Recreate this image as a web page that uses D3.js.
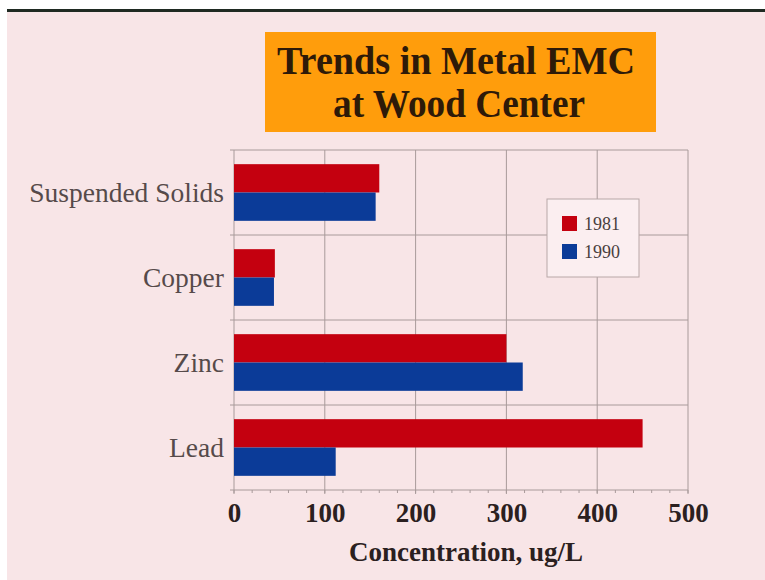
<!DOCTYPE html>
<html>
<head>
<meta charset="utf-8">
<script src="https://cdn.jsdelivr.net/npm/d3@7"></script>
<style>
  html, body { margin: 0; padding: 0; background: #fff; overflow: hidden; }
  svg { display: block; }
</style>
</head>
<body>
<svg id="display"></svg>
<script>
"use strict";

var categories = ['Suspended Solids', 'Copper', 'Zinc', 'Lead'];
var seriesNames = ['1981', '1990'];
var values1981 = [160, 45, 300, 450];
var values1990 = [156, 44, 318, 112];
var tickValues = [0, 100, 200, 300, 400, 500];
var titleLines = ['Trends in Metal EMC', 'at Wood Center'];
var xTitle = 'Concentration, ug/L';

var width = 765,
    height = 580;

var colors = { '1981': '#c4000f', '1990': '#0b3b98' };

var svg = d3.select('#display').attr('width', width).attr('height', height);

// slide background
svg.append('rect').attr('width', width).attr('height', height).attr('fill', '#fff');
svg.append('rect')
  .attr('x', 7).attr('y', 11)
  .attr('width', width - 7).attr('height', height - 11)
  .attr('fill', '#f8e5e7');
svg.append('rect')
  .attr('x', 7).attr('y', 9)
  .attr('width', width - 7).attr('height', 3)
  .attr('fill', '#1f2a22');

// title box
svg.append('rect')
  .attr('x', 265).attr('y', 32)
  .attr('width', 391).attr('height', 100)
  .attr('fill', '#ff9d0c');
svg.append('text')
  .attr('x', 456).attr('y', 74)
  .attr('text-anchor', 'middle')
  .attr('font-family', 'Liberation Serif, Times New Roman, serif')
  .attr('font-weight', 'bold')
  .attr('font-size', 40)
  .attr('fill', '#2e1a08')
  .attr('textLength', 358)
  .attr('lengthAdjust', 'spacingAndGlyphs')
  .text(titleLines[0]);
svg.append('text')
  .attr('x', 459).attr('y', 117)
  .attr('text-anchor', 'middle')
  .attr('font-family', 'Liberation Serif, Times New Roman, serif')
  .attr('font-weight', 'bold')
  .attr('font-size', 40)
  .attr('fill', '#2e1a08')
  .attr('textLength', 252)
  .attr('lengthAdjust', 'spacingAndGlyphs')
  .text(titleLines[1]);

// plot area
var pLeft = 234, pRight = 688, pTop = 150, pBottom = 490;

var x = d3.scaleLinear().domain([0, 500]).range([pLeft, pRight]);
var y = d3.scaleBand().domain(categories).range([pTop, pBottom]);
var inner = d3.scaleBand().domain(seriesNames).range([0, y.bandwidth()]).paddingOuter(0.5);

var field = svg.append('g').attr('id', 'field');

// grid
field.selectAll('.vgrid').data(tickValues).enter().append('line')
  .attr('class', 'vgrid')
  .attr('x1', function(d){ return x(d); })
  .attr('x2', function(d){ return x(d); })
  .attr('y1', pTop)
  .attr('y2', pBottom + 4)
  .attr('stroke', '#a89a9a')
  .attr('stroke-width', 1);

var hLines = categories.map(function(c){ return y(c); }).concat([pBottom]);
field.selectAll('.hgrid').data(hLines).enter().append('line')
  .attr('class', 'hgrid')
  .attr('x1', pLeft - 4)
  .attr('x2', pRight)
  .attr('y1', function(d){ return d; })
  .attr('y2', function(d){ return d; })
  .attr('stroke', '#a89a9a')
  .attr('stroke-width', 1);

// minor ticks
field.selectAll('.minor').data(d3.range(0, 501, 20)).enter().append('line')
  .attr('class', 'minor')
  .attr('x1', function(d){ return x(d); })
  .attr('x2', function(d){ return x(d); })
  .attr('y1', pBottom)
  .attr('y2', pBottom + 3)
  .attr('stroke', '#a89a9a');

// bars
var rows = categories.map(function(c, i){
	return { cat: c, vals: [{ s: '1981', v: values1981[i] }, { s: '1990', v: values1990[i] }] };
});

var gRow = field.selectAll('.row').data(rows).enter().append('g')
  .attr('class', 'row')
  .attr('transform', function(d){ return 'translate(0,' + y(d.cat) + ')'; });
gRow.selectAll('rect').data(function(d){ return d.vals; }).enter().append('rect')
  .attr('x', x(0))
  .attr('y', function(d){ return inner(d.s); })
  .attr('width', function(d){ return x(d.v) - x(0); })
  .attr('height', inner.bandwidth())
  .attr('fill', function(d){ return colors[d.s]; });

// category labels
field.selectAll('.catlabel').data(categories).enter().append('text')
  .attr('class', 'catlabel')
  .attr('x', 224)
  .attr('y', function(d){ return y(d) + y.bandwidth() / 2; })
  .attr('dy', '0.35em')
  .attr('text-anchor', 'end')
  .attr('font-family', 'Liberation Serif, Times New Roman, serif')
  .attr('font-size', 27.5)
  .attr('fill', '#564a4a')
  .text(function(d){ return d; });

// x axis tick labels
var xAxis = d3.axisBottom(x).tickValues(tickValues).tickSize(0).tickPadding(0);
var axisG = field.append('g')
  .attr('transform', 'translate(0,' + 522 + ')')
  .call(xAxis);
axisG.select('.domain').remove();
axisG.selectAll('text')
  .attr('dy', 0)
  .attr('y', 0)
  .attr('font-family', 'Liberation Serif, Times New Roman, serif')
  .attr('font-weight', 'bold')
  .attr('font-size', 27)
  .attr('fill', '#2b2020');

field.append('text')
  .attr('x', 466).attr('y', 561)
  .attr('text-anchor', 'middle')
  .attr('font-family', 'Liberation Serif, Times New Roman, serif')
  .attr('font-weight', 'bold')
  .attr('font-size', 27)
  .attr('fill', '#2b2020')
  .text(xTitle);

// legend
var legend = svg.append('g').attr('transform', 'translate(547,199)');
legend.append('rect')
  .attr('width', 92).attr('height', 78)
  .attr('fill', '#fbeef0')
  .attr('stroke', '#b8a8a8');
var li = legend.selectAll('.li').data(seriesNames).enter().append('g')
  .attr('class', 'li')
  .attr('transform', function(d, i){ return 'translate(15,' + (17 + i * 28) + ')'; });
li.append('rect')
  .attr('width', 15).attr('height', 15)
  .attr('fill', function(d){ return colors[d]; });
li.append('text')
  .attr('x', 22).attr('y', 14)
  .attr('font-family', 'Liberation Serif, Times New Roman, serif')
  .attr('font-size', 18)
  .attr('fill', '#4a3e3e')
  .text(function(d){ return d; });
</script>
</body>
</html>
